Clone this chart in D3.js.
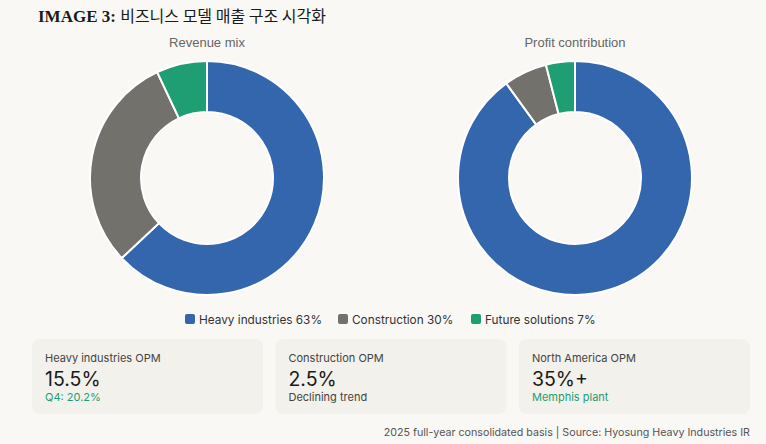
<!DOCTYPE html>
<html>
<head>
<meta charset="utf-8">
<script src="https://cdn.jsdelivr.net/npm/d3@7"></script>
<style>
  html, body { margin: 0; padding: 0; background: #f9f8f5; }
  svg { display: block; }
</style>
</head>
<body>
<svg id="chart" width="766" height="444"></svg>
<script>
// data
var segments = ["Heavy industries", "Construction", "Future solutions"];
var revenueMix = [63, 30, 7];
var profitContribution = [90, 6, 4];
var segmentColors = ["#3466ae", "#73716c", "#1f9e74"];
var chartTitles = ["Revenue mix", "Profit contribution"];
var cardLabels = ["Heavy industries OPM", "Construction OPM", "North America OPM"];
var cardValues = ["15.5%", "2.5%", "35%+"];
var cardNotes = ["Q4: 20.2%", "Declining trend", "Memphis plant"];
var cardNoteGreen = [true, false, true];

var W = 766, H = 444;
var svg = d3.select("#chart");
var sans = "Inter, 'Noto Sans', sans-serif";

svg.append("rect").attr("width", W).attr("height", H).attr("fill", "#f9f8f5");

// title
var title = svg.append("text")
    .attr("x", 38).attr("y", 22)
    .attr("font-size", 17)
    .attr("fill", "#1a1a1a");
title.append("tspan")
    .attr("font-family", "'Liberation Serif', serif")
    .attr("font-weight", "bold")
    .text("IMAGE 3: ");
title.append("tspan")
    .attr("font-family", "'Noto Sans CJK KR', sans-serif")
    .attr("font-size", 16)
    .text("비즈니스 모델 매출 구조 시각화");

// donuts
var color = d3.scaleOrdinal().domain(segments).range(segmentColors);
var pie = d3.pie().sort(null).value(function (d) { return d.value; });
var arc = d3.arc().innerRadius(66).outerRadius(117);
var centersX = d3.scalePoint().domain(chartTitles).range([207, 575]);

[revenueMix, profitContribution].forEach(function (vals, i) {
    var data = segments.map(function (s, j) { return { name: s, value: vals[j] }; });
    var g = svg.append("g")
        .attr("transform", "translate(" + centersX(chartTitles[i]) + ",178)");

    g.selectAll("path")
        .data(pie(data))
        .enter()
        .append("path")
        .attr("d", arc)
        .attr("fill", function (d) { return color(d.data.name); })
        .attr("stroke", "#ffffff")
        .attr("stroke-width", 2);

    svg.append("text")
        .attr("x", centersX(chartTitles[i]))
        .attr("y", 47)
        .attr("text-anchor", "middle")
        .attr("font-family", "'Liberation Sans', Arial, sans-serif")
        .attr("font-size", 13)
        .attr("fill", "#666666")
        .text(chartTitles[i]);
});

// legend
var legend = svg.append("g").attr("transform", "translate(0,320)");
var legendX = [185, 338, 471];
segments.forEach(function (s, i) {
    var lg = legend.append("g").attr("transform", "translate(" + legendX[i] + ",0)");
    lg.append("rect")
        .attr("x", 0).attr("y", -6)
        .attr("width", 10).attr("height", 10)
        .attr("rx", 2)
        .attr("fill", color(s));
    lg.append("text")
        .attr("x", 14).attr("y", 4)
        .attr("font-family", sans)
        .attr("font-size", 11.8)
        .attr("fill", "#333333")
        .text(s + " " + revenueMix[i] + "%");
});

// cards
var cardX = d3.scaleBand().domain(cardLabels).range([32, 750]).paddingInner(0.051).paddingOuter(0);
cardLabels.forEach(function (lab, i) {
    var cg = svg.append("g").attr("transform", "translate(" + cardX(lab) + ",339)");
    cg.append("rect")
        .attr("width", cardX.bandwidth()).attr("height", 75)
        .attr("rx", 8)
        .attr("fill", "#f2f1eb");
    cg.append("text")
        .attr("x", 13).attr("y", 23)
        .attr("font-family", sans)
        .attr("font-size", 11)
        .attr("fill", "#444444")
        .text(lab);
    cg.append("text")
        .attr("x", 13).attr("y", 47)
        .attr("font-family", sans)
        .attr("font-size", 19.5)
        .attr("fill", "#1a1a1a")
        .text(cardValues[i]);
    cg.append("text")
        .attr("x", 13).attr("y", 62)
        .attr("font-family", sans)
        .attr("font-size", 11)
        .attr("fill", cardNoteGreen[i] ? "#1f9e74" : "#444444")
        .text(cardNotes[i]);
});

// footer
svg.append("text")
    .attr("x", 750).attr("y", 436)
    .attr("text-anchor", "end")
    .attr("font-family", sans)
    .attr("font-size", 10.7)
    .attr("fill", "#555555")
    .text("2025 full-year consolidated basis | Source: Hyosung Heavy Industries IR");
</script>
</body>
</html>
